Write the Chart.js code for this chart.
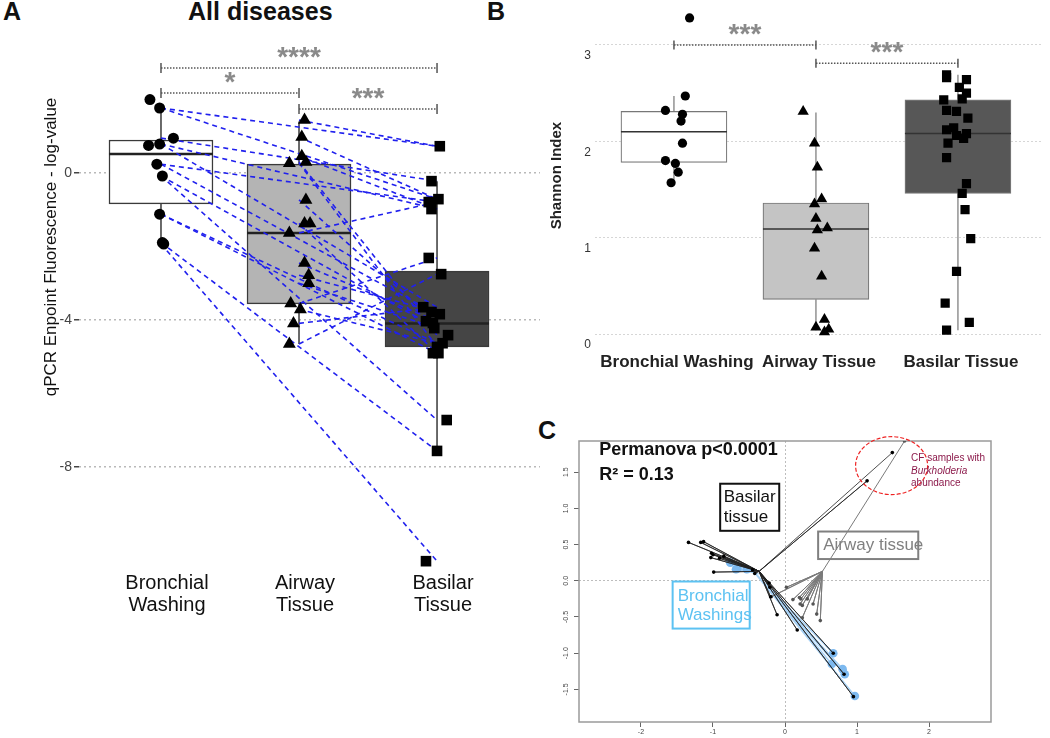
<!DOCTYPE html>
<html>
<head>
<meta charset="utf-8">
<script src="https://cdn.jsdelivr.net/npm/chart.js@4.4.1/dist/chart.umd.min.js"></script>
<style>
  body { margin: 0; background: #fff; width: 1050px; height: 738px; position: relative; overflow: hidden;
         font-family: 'Liberation Sans', Arial, sans-serif; }
  .panel { position: absolute; }
  .tag { position: absolute; font-weight: bold; font-size: 25px; line-height: 25px; color: #111; }
</style>
</head>
<body>
<div class="tag" style="left:3px;top:-1px">A</div>
<div class="tag" style="left:188px;top:-1px">All diseases</div>
<div class="tag" style="left:487px;top:-1px">B</div>
<div class="tag" style="left:538px;top:418px">C</div>

<div class="panel" style="left:0;top:0;width:540px;height:640px"><canvas id="chartA"></canvas></div>
<div class="panel" style="left:540px;top:0;width:510px;height:380px"><canvas id="chartB"></canvas></div>
<div class="panel" style="left:550px;top:400px;width:500px;height:338px"><canvas id="chartC"></canvas></div>

<script>
const FONT = "'Liberation Sans', Arial, sans-serif";

// ---------- panel A : qPCR, log values ----------
const categoriesA = [['Bronchial', 'Washing'], ['Airway', 'Tissue'], ['Basilar', 'Tissue']];
const yTicksA = [0, -4, -8];

const bwValuesA = [2.0, 1.77, 0.95, 0.75, 0.79, 0.24, -0.08, -1.12, -1.89, -1.93];
const bwJitterA = [-0.08, -0.01, 0.09, -0.09, -0.01, -0.03, 0.01, -0.01, 0.01, 0.02];
const awValuesA = [1.44, 0.98, 0.46, 0.30, 0.27, -0.73, -1.37, -1.37, -1.63, -2.45, -2.78, -3.0, -3.55, -3.71, -4.09, -4.65];
const awJitterA = [0.04, 0.02, 0.02, 0.05, -0.07, 0.05, 0.04, 0.08, -0.07, 0.04, 0.07, 0.07, -0.06, 0.01, -0.04, -0.07];
const baValuesA = [0.73, -0.22, -0.71, -0.79, -0.98, -2.31, -2.75, -3.65, -3.78, -3.84, -4.03, -4.08, -4.22, -4.41, -4.63, -4.73, -4.90, -4.90, -6.72, -7.56, -10.56];
const baJitterA = [0.02, -0.04, 0.01, -0.06, -0.04, -0.06, 0.03, -0.1, -0.04, 0.02, -0.08, -0.03, -0.02, 0.08, 0.04, 0, -0.03, 0.01, 0.07, 0, -0.08];

const boxQ1A = [-0.84, -3.56, -4.73];
const boxMedianA = [0.52, -1.63, -4.09];
const boxQ3A = [0.90, 0.245, -2.67];
const whiskerLowA = [-1.90, -4.65, -7.56];
const whiskerHighA = [1.85, 1.40, -0.22];

// paired samples: [bronchial value, basilar value] and [airway value, basilar value]
const bwToBaLinksA = [[1.77, 0.73], [1.77, -0.71], [0.95, -0.22], [0.79, -0.98], [0.79, -3.65], [0.24, -0.79],
  [0.24, -3.84], [-0.08, -4.22], [-0.08, -6.72], [-1.12, -4.90], [-1.12, -4.63], [-1.89, -7.56], [-1.93, -10.56]];
const awToBaLinksA = [[1.44, 0.73], [0.98, -0.71], [0.46, -0.98], [0.30, -4.41], [0.27, -4.73], [-0.73, -4.08],
  [-1.37, -4.90], [-1.63, -0.79], [-2.45, -4.03], [-2.78, -3.78], [-3.0, -4.22], [-3.55, -2.31], [-3.71, -4.63],
  [-4.09, -3.65], [-4.65, -2.75]];

const bracketsA = [[1, 3, 2.86, '****'], [1, 2, 2.18, '*'], [2, 3, 1.74, '***']];

// ---------- panel B : Shannon index ----------
const categoriesB = ['Bronchial Washing', 'Airway Tissue', 'Basilar Tissue'];
const yTicksB = [0, 1, 2, 3];

const bwValuesB = [3.28, 2.47, 2.32, 2.28, 2.21, 1.98, 1.80, 1.77, 1.68, 1.57];
const bwJitterB = [0.11, 0.08, -0.06, 0.06, 0.05, 0.06, -0.06, 0.01, 0.03, -0.02];
const awValuesB = [2.31, 1.98, 1.73, 1.40, 1.35, 1.20, 1.10, 1.08, 0.89, 0.60, 0.15, 0.07, 0.05, 0.02];
const awJitterB = [-0.09, -0.01, 0.01, 0.04, -0.01, 0, 0.08, 0.01, -0.01, 0.04, 0.06, 0, 0.09, 0.06];
const baValuesB = [2.69, 2.66, 2.64, 2.56, 2.50, 2.44, 2.43, 2.32, 2.31, 2.24, 2.14, 2.12, 2.08, 2.06, 2.03, 1.98,
  1.83, 1.56, 1.46, 1.29, 0.99, 0.65, 0.32, 0.12, 0.04];
const baJitterB = [-0.08, -0.08, 0.06, 0.01, 0.06, 0.03, -0.1, -0.08, -0.01, 0.07, -0.03, -0.08, 0.06, -0.01, 0.04,
  -0.07, -0.08, 0.06, 0.03, 0.05, 0.09, -0.01, -0.09, 0.08, -0.08];

const boxQ1B = [1.78, 0.36, 1.46];
const boxMedianB = [2.10, 1.09, 2.08];
const boxQ3B = [2.31, 1.36, 2.43];
const whiskerLowB = [1.61, 0.04, 0.04];
const whiskerHighB = [2.47, 2.30, 2.69];

const bracketsB = [[1, 2, 3.0, '***'], [2, 3, 2.81, '***']];

// ---------- panel C : ordination ----------
const xTicksC = [-2, -1, 0, 1, 2];
const yTicksC = [-1.5, -1, -0.5, 0, 0.5, 1, 1.5];

const basilarCentroidC = [-0.36, 0.13];
const basilarXC = [-1.34, -1.17, -1.13, -1.02, -1.00, -1.03, -0.91, -0.85, -0.99, -0.45, -0.42, -0.22, -0.21, -0.20, -0.11, 0.17, 0.67, 0.82, 0.95, 1.14, 1.49];
const basilarYC = [0.53, 0.53, 0.54, 0.38, 0.36, 0.32, 0.31, 0.34, 0.12, 0.15, 0.10, -0.03, -0.09, -0.22, -0.47, -0.68, -1.0, -1.29, -1.6, 1.38, 1.77];

const airwayCentroidC = [0.52, 0.13];
const airwayXC = [0.02, 0.11, 0.20, 0.22, 0.31, 0.21, 0.24, 0.39, 0.44, 0.49, 0.24, -0.19, 1.66];
const airwayYC = [-0.09, -0.26, -0.23, -0.25, -0.25, -0.32, -0.34, -0.32, -0.46, -0.55, -0.51, -0.22, 1.93];

const bronchialCentroidC = [-0.42, 0.11];
const bronchialXC = [-0.76, -0.68, -0.66, -0.53, 0.67, 0.65, 0.80, 0.83, 0.97];
const bronchialYC = [0.25, 0.16, 0.17, 0.16, -1.0, -1.15, -1.22, -1.29, -1.59];

const burkholderiaC = { x: 1.48, y: 1.59, rx: 0.5, ry: 0.40 };

// ---------- helpers ----------
const jittered = (cat, values, jitter) => values.map((v, i) => ({ x: cat + jitter[i], y: v }));
const boxBars = (q1, q3) => q1.map((v, i) => ({ x: i + 1, y: [v, q3[i]] }));
const spokes = (c, xs, ys) => xs.flatMap((vx, i) => [{ x: c[0], y: c[1] }, { x: vx, y: ys[i] }]);
const fixedTicks = list => scale => { scale.ticks = list.map(v => ({ value: v })); };

function whiskerPlugin(q1, med, q3, low, high, half, style) {
  return {
    id: 'whiskers',
    afterDatasetDraw(chart, args) {
      if (chart.data.datasets[args.index].type !== 'bar') return;
      const { ctx, scales: { x, y } } = chart;
      ctx.save();
      ctx.strokeStyle = style.whisker;
      ctx.lineWidth = style.whiskerWidth;
      low.forEach((lo, i) => {
        const px = x.getPixelForValue(i + 1);
        ctx.beginPath();
        ctx.moveTo(px, y.getPixelForValue(high[i]));
        ctx.lineTo(px, y.getPixelForValue(q3[i]));
        ctx.moveTo(px, y.getPixelForValue(q1[i]));
        ctx.lineTo(px, y.getPixelForValue(lo));
        ctx.stroke();
      });
      ctx.strokeStyle = style.median;
      ctx.lineWidth = style.medianWidth;
      med.forEach((m, i) => {
        const px = x.getPixelForValue(i + 1);
        const py = y.getPixelForValue(m);
        ctx.beginPath();
        ctx.moveTo(px - half, py);
        ctx.lineTo(px + half, py);
        ctx.stroke();
      });
      ctx.restore();
    }
  };
}

function bracketPlugin(list, style) {
  return {
    id: 'brackets',
    afterDraw(chart) {
      const { ctx, scales: { x, y } } = chart;
      ctx.save();
      list.forEach(([a, b, v, label]) => {
        const x1 = x.getPixelForValue(a), x2 = x.getPixelForValue(b), py = y.getPixelForValue(v);
        ctx.strokeStyle = '#555';
        ctx.lineWidth = 1.5;
        ctx.setLineDash([1.5, 1.5]);
        ctx.beginPath();
        ctx.moveTo(x1, py); ctx.lineTo(x2, py);
        ctx.stroke();
        ctx.setLineDash([]);
        ctx.beginPath();
        ctx.moveTo(x1, py - style.tick); ctx.lineTo(x1, py + style.tick);
        ctx.moveTo(x2, py - style.tick); ctx.lineTo(x2, py + style.tick);
        ctx.stroke();
        ctx.fillStyle = '#8a8a8a';
        ctx.font = 'bold 28px ' + FONT;
        ctx.textAlign = 'center';
        ctx.textBaseline = 'alphabetic';
        ctx.fillText(label, (x1 + x2) / 2, py + style.labelDy);
      });
      ctx.restore();
    }
  };
}

const common = {
  responsive: true,
  maintainAspectRatio: false,
  animation: false,
  events: [],
  plugins: { legend: { display: false }, tooltip: { enabled: false } }
};

// ---------- chart A ----------
const linksA = [
  ...bwToBaLinksA.map(([a, b]) => [{ x: 1, y: a }, { x: 3, y: b }]),
  ...awToBaLinksA.map(([a, b]) => [{ x: 2, y: a }, { x: 3, y: b }])
].map(pts => ({
  type: 'line', data: pts, borderColor: '#2020ee', borderWidth: 1.6, borderDash: [5, 4],
  pointRadius: 0, fill: false, tension: 0, order: 2
}));

new Chart(document.getElementById('chartA'), {
  type: 'bar',
  data: {
    datasets: [
      { type: 'bar', data: boxBars(boxQ1A, boxQ3A), backgroundColor: ['#ffffff', '#b4b4b4', '#454545'],
        borderColor: '#3a3a3a', borderWidth: 1.5, borderSkipped: false, barThickness: 104, order: 4 },
      ...linksA,
      { type: 'scatter', data: jittered(1, bwValuesA, bwJitterA), pointStyle: 'circle', pointRadius: 5.5,
        pointBackgroundColor: '#000', pointBorderWidth: 0, order: 1 },
      { type: 'scatter', data: jittered(2, awValuesA, awJitterA), pointStyle: 'triangle', pointRadius: 7.5,
        pointBackgroundColor: '#000', pointBorderWidth: 0, order: 1 },
      { type: 'scatter', data: jittered(3, baValuesA, baJitterA), pointStyle: 'rect', pointRadius: 7.5,
        pointBackgroundColor: '#000', pointBorderWidth: 0, order: 1 }
    ]
  },
  options: {
    ...common,
    layout: { padding: { top: 40, right: 0, bottom: 0, left: 0 }, autoPadding: false },
    scales: {
      x: {
        type: 'linear', min: 0.406, max: 3.746, offset: false,
        afterBuildTicks: fixedTicks([1, 2, 3]),
        afterFit: s => { s.height = 70; },
        grid: { display: false, offset: false, drawTicks: false },
        border: { display: false },
        ticks: { callback: v => categoriesA[v - 1], font: { size: 20, family: FONT, lineHeight: 1.1 },
                 color: '#111', padding: 2, labelOffset: 6, maxRotation: 0 }
      },
      y: {
        min: -10.8, max: 3.62,
        afterBuildTicks: fixedTicks(yTicksA),
        afterFit: s => { s.width = 79; },
        grid: { color: '#b9b9b9', lineWidth: 1.5, tickColor: '#444', tickLength: 5, tickWidth: 1.5 },
        border: { display: false, dash: [2, 3] },
        ticks: { callback: v => String(v), font: { size: 14, family: FONT }, color: '#444', padding: 2 }
      }
    }
  },
  plugins: [
    whiskerPlugin(boxQ1A, boxMedianA, boxQ3A, whiskerLowA, whiskerHighA, 52,
      { whisker: '#3a3a3a', whiskerWidth: 1.5, median: '#222', medianWidth: 2.5 }),
    bracketPlugin(bracketsA, { tick: 5, labelDy: -2 }),
    {
      id: 'yTitleA',
      afterDraw(chart) {
        const ctx = chart.ctx;
        ctx.save();
        ctx.translate(51, 247);
        ctx.rotate(-Math.PI / 2);
        ctx.font = '17px ' + FONT;
        ctx.fillStyle = '#111';
        ctx.textAlign = 'center';
        ctx.textBaseline = 'middle';
        ctx.fillText('qPCR Enpoint Fluorescence - log-value', 0, 0);
        ctx.restore();
      }
    }
  ]
});

// ---------- chart B ----------
new Chart(document.getElementById('chartB'), {
  type: 'bar',
  data: {
    datasets: [
      { type: 'bar', data: boxBars(boxQ1B, boxQ3B), backgroundColor: ['#ffffff', '#c4c4c4', '#575757'],
        borderColor: '#777', borderWidth: 1.2, borderSkipped: false, barThickness: 106, order: 4 },
      { type: 'scatter', data: jittered(1, bwValuesB, bwJitterB), pointStyle: 'circle', pointRadius: 4.6,
        pointBackgroundColor: '#000', pointBorderWidth: 0, order: 1 },
      { type: 'scatter', data: jittered(2, awValuesB, awJitterB), pointStyle: 'triangle', pointRadius: 6.5,
        pointBackgroundColor: '#000', pointBorderWidth: 0, order: 1 },
      { type: 'scatter', data: jittered(3, baValuesB, baJitterB), pointStyle: 'rect', pointRadius: 6.5,
        pointBackgroundColor: '#000', pointBorderWidth: 0, order: 1 }
    ]
  },
  options: {
    ...common,
    layout: { padding: { top: 8, right: 7, bottom: 0, left: 8 }, autoPadding: false },
    scales: {
      x: {
        type: 'linear', min: 0.444, max: 3.599, offset: false,
        afterBuildTicks: fixedTicks([1, 2, 3]),
        afterFit: s => { s.height = 40; },
        grid: { display: false, offset: false, drawTicks: false },
        border: { display: false },
        ticks: { callback: v => categoriesB[v - 1], font: { size: 17, weight: 'bold', family: FONT },
                 color: '#222', padding: 12, labelOffset: 3, maxRotation: 0 }
      },
      y: {
        min: -0.062, max: 3.35,
        afterBuildTicks: fixedTicks(yTicksB),
        afterFit: s => { s.width = 47; },
        title: { display: true, text: 'Shannon Index', font: { size: 15, weight: 'bold', family: FONT },
                 color: '#222', padding: 0 },
        grid: { color: '#d6d6d6', lineWidth: 1, drawTicks: false },
        border: { display: false, dash: [2, 2] },
        ticks: { font: { size: 12, family: FONT }, color: '#333', padding: 4, labelOffset: 11 }
      }
    }
  },
  plugins: [
    whiskerPlugin(boxQ1B, boxMedianB, boxQ3B, whiskerLowB, whiskerHighB, 53,
      { whisker: '#777', whiskerWidth: 1.2, median: '#333', medianWidth: 1.5 }),
    bracketPlugin(bracketsB, { tick: 4.5, labelDy: -2 })
  ]
});

// ---------- chart C ----------
const notesC = {
  id: 'notesC',
  beforeDatasetsDraw(chart) {
    const { ctx, chartArea: a } = chart;
    ctx.save();
    ctx.strokeStyle = '#9a9a9a';
    ctx.lineWidth = 1.5;
    ctx.strokeRect(a.left, a.top, a.right - a.left, a.bottom - a.top);
    ctx.restore();
  },
  afterDraw(chart) {
    const { ctx, scales: { x, y } } = chart;
    const px = v => x.getPixelForValue(v), py = v => y.getPixelForValue(v);
    ctx.save();
    // Burkholderia ellipse
    ctx.strokeStyle = '#ee2222';
    ctx.lineWidth = 1.2;
    ctx.setLineDash([4, 2]);
    ctx.beginPath();
    ctx.ellipse(px(burkholderiaC.x), py(burkholderiaC.y),
      px(burkholderiaC.x + burkholderiaC.rx) - px(burkholderiaC.x),
      py(burkholderiaC.y) - py(burkholderiaC.y + burkholderiaC.ry), 0, 0, Math.PI * 2);
    ctx.stroke();
    ctx.setLineDash([]);

    ctx.textBaseline = 'middle';
    ctx.textAlign = 'left';
    ctx.fillStyle = '#111';
    ctx.font = 'bold 18px ' + FONT;
    ctx.fillText('Permanova p<0.0001', px(-2.58), py(1.80));
    ctx.fillText('R² = 0.13', px(-2.58), py(1.46));

    const box = (x1, x2, y1, y2, color, lines, ly, lx, font) => {
      ctx.strokeStyle = color;
      ctx.lineWidth = 2;
      ctx.strokeRect(px(x1), py(y1), px(x2) - px(x1), py(y2) - py(y1));
      ctx.fillStyle = color;
      ctx.font = font;
      lines.forEach((t, i) => ctx.fillText(t, px(lx), py(ly[i])));
    };
    box(-0.90, -0.08, 1.34, 0.69, '#111', ['Basilar', 'tissue'], [1.15, 0.88], -0.85, '17px ' + FONT);
    box(0.46, 1.85, 0.68, 0.30, '#808080', ['Airway tissue'], [0.49], 0.53, '17px ' + FONT);
    box(-1.56, -0.49, -0.01, -0.66, '#5cc2f2', ['Bronchial', 'Washings'], [-0.21, -0.47], -1.49, '17px ' + FONT);

    ctx.fillStyle = '#8c1a4b';
    ctx.font = '10px ' + FONT;
    ctx.fillText('CF samples with', px(1.75), py(1.69));
    ctx.font = 'italic 10px ' + FONT;
    ctx.fillText('Burkholderia', px(1.75), py(1.51));
    ctx.font = '10px ' + FONT;
    ctx.fillText('abundance', px(1.75), py(1.34));
    ctx.restore();
  }
};

const pointsOf = (xs, ys) => xs.map((v, i) => ({ x: v, y: ys[i] }));

new Chart(document.getElementById('chartC'), {
  type: 'scatter',
  data: {
    datasets: [
      { type: 'line', data: spokes(bronchialCentroidC, bronchialXC, bronchialYC), borderColor: '#a9d2f5',
        borderWidth: 1.6, pointRadius: 0, tension: 0, fill: false, order: 6 },
      { type: 'scatter', data: pointsOf(bronchialXC, bronchialYC), pointRadius: 4.3,
        pointBackgroundColor: '#7db9ef', pointBorderWidth: 0, order: 5 },
      { type: 'line', data: spokes(airwayCentroidC, airwayXC, airwayYC), borderColor: '#7a7a7a',
        borderWidth: 1, pointRadius: 0, tension: 0, fill: false, order: 4 },
      { type: 'line', data: spokes(basilarCentroidC, basilarXC, basilarYC), borderColor: '#222',
        borderWidth: 0.8, pointRadius: 0, tension: 0, fill: false, order: 3 },
      { type: 'scatter', data: pointsOf(airwayXC, airwayYC), pointRadius: 1.8,
        pointBackgroundColor: '#555', pointBorderWidth: 0, order: 2 },
      { type: 'scatter', data: pointsOf(basilarXC, basilarYC), pointRadius: 1.8,
        pointBackgroundColor: '#000', pointBorderWidth: 0, order: 1 }
    ]
  },
  options: {
    ...common,
    layout: { padding: { top: 41, right: 59, bottom: 0, left: 0 }, autoPadding: false },
    scales: {
      x: {
        type: 'linear', min: -2.86, max: 2.86,
        afterBuildTicks: fixedTicks(xTicksC),
        afterFit: s => { s.height = 16; },
        grid: { color: ctx => ctx.tick && ctx.tick.value === 0 ? '#bdbdbd' : 'transparent',
                lineWidth: 1, tickColor: '#666', tickLength: 5 },
        border: { display: false, dash: [2, 2] },
        ticks: { font: { size: 7, family: FONT }, color: '#444', padding: 1, maxRotation: 0 }
      },
      y: {
        min: -1.95, max: 1.93,
        afterBuildTicks: fixedTicks(yTicksC),
        afterFit: s => { s.width = 29; },
        grid: { color: ctx => ctx.tick && ctx.tick.value === 0 ? '#bdbdbd' : 'transparent',
                lineWidth: 1, tickColor: '#666', tickLength: 5 },
        border: { display: false, dash: [2, 2] },
        ticks: { callback: v => v.toFixed(1), font: { size: 7, family: FONT }, color: '#444',
                 padding: 2, minRotation: 90, maxRotation: 90, crossAlign: 'center' }
      }
    }
  },
  plugins: [notesC]
});
</script>
</body>
</html>
